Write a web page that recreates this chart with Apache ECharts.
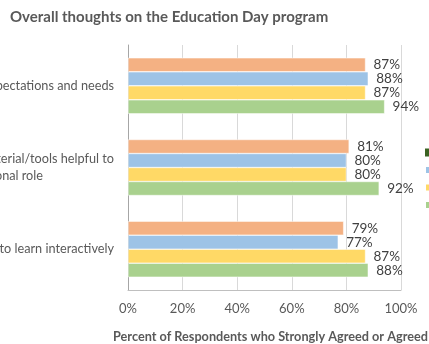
<!DOCTYPE html>
<html>
<head>
<meta charset="utf-8">
<script src="https://cdn.jsdelivr.net/npm/echarts@6/dist/echarts.min.js"></script>
<style>
  html, body { margin: 0; padding: 0; background: #fff; }
  #chart { width: 429px; height: 344px; }
</style>
</head>
<body>
<div id="chart"></div>
<script>
var categories = [
  'Met my expectations and needs',
  'Provided material/tools helpful to|my professional role',
  'Provided opportunities to learn interactively'
]
var seriesNames = ['Orange', 'Blue', 'Yellow', 'Green']
var orangeValues = [87, 81, 79]
var blueValues = [88, 80, 77]
var yellowValues = [87, 80, 87]
var greenValues = [94, 92, 88]
var xTicks = [0, 20, 40, 60, 80, 100]
var legendNames = ['Dark green', 'Blue', 'Yellow', 'Green']

var colors = ['#F4B183', '#9DC3E6', '#FFD966', '#A9D18E']
var values = [orangeValues, blueValues, yellowValues, greenValues]
var font = 'Lato, "Open Sans", sans-serif'

var chart = echarts.init(document.getElementById('chart'))

var series = values.map(function (data, i) {
  return {
    name: seriesNames[i],
    type: 'bar',
    data: data,
    barWidth: 14,
    barGap: '0%',
    itemStyle: { color: colors[i], borderColor: '#fff', borderWidth: 0.5 },
    label: {
      show: true,
      position: 'right',
      distance: 8,
      formatter: '{c}%',
      color: '#404040',
      fontFamily: font,
      fontSize: 13.5
    }
  }
})
// legend-only entry with no bars of its own
series.push({ name: 'Dark green', type: 'line', data: [], itemStyle: { color: '#3B6322' } })

var option = {
  animation: false,
  title: {
    text: 'Overall thoughts on the Education Day program',
    left: 10,
    top: 10,
    padding: 0,
    textStyle: { color: '#595959', fontFamily: font, fontWeight: 'bold', fontSize: 15 }
  },
  legend: {
    orient: 'vertical',
    left: 424,
    top: 147,
    padding: 0,
    itemWidth: 8,
    itemHeight: 8,
    itemGap: 6.5,
    icon: 'rect',
    data: legendNames,
    textStyle: { fontSize: 11, lineHeight: 8, color: '#595959', fontFamily: font }
  },
  grid: { left: 128, right: 28, top: 45, bottom: 54, containLabel: false, outerBoundsMode: 'none' },
  xAxis: {
    type: 'value',
    min: xTicks[0],
    max: xTicks[xTicks.length - 1],
    interval: 20,
    name: 'Percent of Respondents who Strongly Agreed or Agreed',
    nameLocation: 'middle',
    nameGap: 40,
    nameTextStyle: {
      color: '#595959', fontFamily: font, fontWeight: 'bold', fontSize: 12.7,
      width: 400, overflow: 'none', padding: [0, 0, 0, 12]
    },
    axisLine: { show: true, lineStyle: { color: '#BFBFBF' } },
    axisTick: { show: false },
    axisLabel: { formatter: '{value}%', color: '#595959', fontFamily: font, fontSize: 13, margin: 12 },
    splitLine: { lineStyle: { color: '#D9D9D9' } }
  },
  yAxis: {
    type: 'category',
    inverse: true,
    data: categories,
    axisLine: { show: true, lineStyle: { color: '#A6A6A6' } },
    axisTick: { show: false },
    axisLabel: {
      margin: 14,
      color: '#595959',
      fontFamily: font,
      fontSize: 12.7,
      lineHeight: 17,
      formatter: function (v) {
        var parts = v.split('|')
        if (parts.length === 1) return v
        return parts[0] + '\n{b|' + parts[1] + '}'
      },
      rich: {
        b: { color: '#595959', fontFamily: font, fontSize: 12.7, lineHeight: 17, padding: [0, 71, 0, 0] }
      }
    }
  },
  series: series
}

chart.setOption(option)
</script>
</body>
</html>
